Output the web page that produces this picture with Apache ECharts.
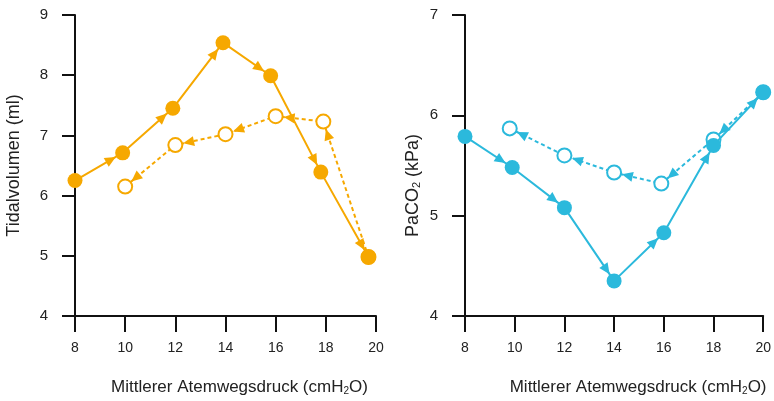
<!DOCTYPE html>
<html>
<head>
<meta charset="utf-8">
<script src="https://cdn.jsdelivr.net/npm/echarts@6/dist/echarts.min.js"></script>
<style>
  html, body { margin: 0; padding: 0; background: #fff; }
  #main { width: 774px; height: 401px; }
</style>
</head>
<body>
<div id="main"></div>
<script>
// Tidalvolumen (links)
const tvX = [8, 9.9, 11.9, 13.9, 15.8, 17.8, 19.7];
const tvSolid = [6.25, 6.71, 7.45, 8.54, 7.99, 6.39, 4.98];
const tvOpenX = [10, 12, 14, 16, 17.9];
const tvOpen = [6.15, 6.84, 7.02, 7.32, 7.23];

// PaCO2 (rechts)
const pcX = [8, 9.9, 12, 14, 16, 18, 20];
const pcSolid = [5.79, 5.48, 5.08, 4.35, 4.83, 5.70, 6.23];
const pcOpenX = [9.8, 12, 14, 15.9, 18];
const pcOpen = [5.87, 5.6, 5.43, 5.32, 5.76];

const xTicks = [8, 10, 12, 14, 16, 18, 20];

const ORANGE = '#f6a800';
const BLUE = '#2bb9dc';
const FONT = 'Liberation Sans';

const zip = (xs, ys) => xs.map((x, i) => [x, ys[i]]);

// dashed curve runs from the last filled point back towards low x
function openPath(xs, ys, endX, endY) {
  return zip(xs, ys).concat([[endX, endY]]);
}
// segments that get an arrow at their end
function forwardSegs(pts) {
  const out = [];
  for (let i = 0; i < pts.length - 1; i++) out.push([pts[i][0], pts[i][1], pts[i + 1][0], pts[i + 1][1]]);
  return out;
}
function backwardSegs(pts) {
  const out = [];
  for (let i = pts.length - 1; i > 0; i--) out.push([pts[i][0], pts[i][1], pts[i - 1][0], pts[i - 1][1]]);
  return out;
}

const tvSolidPts = zip(tvX, tvSolid);
const tvOpenPts = openPath(tvOpenX, tvOpen, tvX[tvX.length - 1], tvSolid[tvSolid.length - 1]);
const pcSolidPts = zip(pcX, pcSolid);
const pcOpenPts = openPath(pcOpenX, pcOpen, pcX[pcX.length - 1], pcSolid[pcSolid.length - 1]);

function arrowSeries(idx, segs, color) {
  return {
    type: 'custom',
    xAxisIndex: idx, yAxisIndex: idx,
    z: 4,
    silent: true,
    data: segs,
    encode: { x: [0, 2], y: [1, 3] },
    renderItem: function (params, api) {
      const p1 = api.coord([api.value(0), api.value(1)]);
      const p2 = api.coord([api.value(2), api.value(3)]);
      const dx = p2[0] - p1[0], dy = p2[1] - p1[1];
      const len = Math.sqrt(dx * dx + dy * dy) || 1;
      const ux = dx / len, uy = dy / len;
      const tip = [p2[0] - ux * 8, p2[1] - uy * 8];
      const base = [tip[0] - ux * 11, tip[1] - uy * 11];
      const nx = -uy * 5, ny = ux * 5;
      return {
        type: 'polygon',
        shape: { points: [tip, [base[0] + nx, base[1] + ny], [base[0] - nx, base[1] - ny]] },
        style: { fill: color }
      };
    }
  };
}

function lineSeries(idx, pts, color, dashed) {
  return {
    type: 'line',
    xAxisIndex: idx, yAxisIndex: idx,
    data: pts,
    z: dashed ? 2 : 3,
    symbol: dashed ? 'emptyCircle' : 'circle',
    symbolSize: dashed ? 14 : 15,
    showSymbol: true,
    itemStyle: dashed ? { color: color, borderColor: color, borderWidth: 1.6 } : { color: color },
    lineStyle: { color: color, width: 2, type: dashed ? [4, 3] : 'solid' },
    animation: false
  };
}

function subRich(size) {
  return {
    a: { fontFamily: FONT, fontSize: size, color: '#222', lineHeight: size + 4, verticalAlign: 'bottom' },
    s: { fontFamily: FONT, fontSize: Math.round(size * 0.6), color: '#222', lineHeight: size + 4, verticalAlign: 'bottom' }
  };
}

function xAxis(idx, padLeft) {
  return {
    type: 'value', gridIndex: idx, min: 8, max: 20, interval: 2,
    axisLine: { lineStyle: { color: '#111', width: 2 } },
    axisTick: { length: 16, lineStyle: { color: '#111', width: 2 } },
    splitLine: { show: false },
    axisLabel: { margin: 25, fontFamily: FONT, fontSize: 14, color: '#222',
      customValues: xTicks },
    name: '{a|Mittlerer Atemwegsdruck (cmH}{s|2}{a|O)}',
    nameLocation: 'middle', nameGap: 59,
    nameTextStyle: { rich: subRich(17), padding: [0, 0, 0, padLeft] }
  };
}

function yAxis(idx, min, max, name, gap, pad) {
  return {
    type: 'value', gridIndex: idx, min: min, max: max, interval: 1,
    axisLine: { show: true, lineStyle: { color: '#111', width: 2 } },
    axisTick: { show: true, length: 13, lineStyle: { color: '#111', width: 2 } },
    splitLine: { show: false },
    axisLabel: { margin: 27, fontFamily: FONT, fontSize: 15, color: '#222' },
    name: name, nameLocation: 'middle', nameGap: gap,
    nameTextStyle: { rich: subRich(18), padding: pad }
  };
}

const chart = echarts.init(document.getElementById('main'), null, { renderer: 'canvas' });
chart.setOption({
  animation: false,
  backgroundColor: '#fff',
  grid: [
    { left: 75, top: 15, width: 301, height: 303 },
    { left: 465, top: 15, width: 302, height: 303 }
  ],
  xAxis: [xAxis(0, 28), xAxis(1, 48)],
  yAxis: [
    yAxis(0, 4, 9, '{a|Tidalvolumen (ml)}', 52, [0, 0, 0, 0]),
    yAxis(1, 4, 7, '{a|PaCO}{s|2}{a| (kPa)}', 43, [0, 40, 0, 0])
  ],
  series: [
    lineSeries(0, tvOpenPts, ORANGE, true),
    lineSeries(0, tvSolidPts, ORANGE, false),
    arrowSeries(0, backwardSegs(tvOpenPts), ORANGE),
    arrowSeries(0, forwardSegs(tvSolidPts), ORANGE),
    lineSeries(1, pcOpenPts, BLUE, true),
    lineSeries(1, pcSolidPts, BLUE, false),
    arrowSeries(1, backwardSegs(pcOpenPts), BLUE),
    arrowSeries(1, forwardSegs(pcSolidPts), BLUE)
  ]
});
</script>
</body>
</html>
